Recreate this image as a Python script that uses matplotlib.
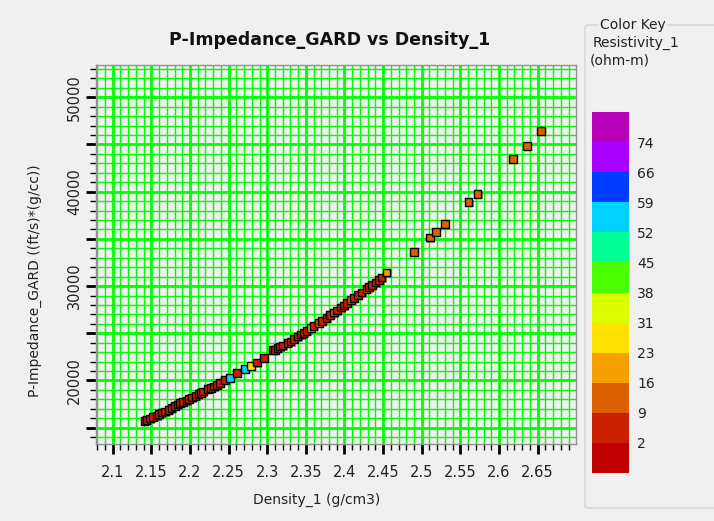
import matplotlib
matplotlib.use("Agg")
import matplotlib.pyplot as plt
import matplotlib.colors as mcolors
import matplotlib.patheffects as pe
from matplotlib.patches import FancyBboxPatch
from matplotlib.ticker import MultipleLocator, FuncFormatter
import numpy as np

# ---- data ----
density = [2.141, 2.144, 2.148, 2.1525, 2.157, 2.160, 2.1634, 2.168, 2.172, 2.176,
           2.1806, 2.184, 2.187, 2.191, 2.1957, 2.199, 2.203, 2.207, 2.2108, 2.214,
           2.2172, 2.2237, 2.227, 2.231, 2.235, 2.2388, 2.2453, 2.2518, 2.2612, 2.2711,
           2.2789, 2.2871, 2.2961, 2.3078, 2.310, 2.3135, 2.3164, 2.320, 2.3264, 2.330,
           2.335, 2.339, 2.3436, 2.347, 2.351, 2.3565, 2.360, 2.3669, 2.371, 2.3768,
           2.381, 2.3863, 2.390, 2.3953, 2.399, 2.403, 2.4083, 2.412, 2.4177, 2.422,
           2.4286, 2.432, 2.4358, 2.440, 2.4445, 2.448, 2.4544,
           2.4902, 2.5105, 2.5186, 2.5303, 2.5605, 2.5722, 2.6183, 2.6364, 2.654]
impedance = [15700, 15815, 15980, 16102, 16300, 16450, 16589, 16720, 16875, 17080,
             17300, 17450, 17585, 17700, 17860, 18030, 18180, 18360, 18540, 18680,
             18815, 19070, 19200, 19345, 19520, 19700, 20050, 20230, 20760, 21190,
             21540, 21890, 22350, 23230, 23230, 23420, 23580, 23720, 23940, 24130,
             24400, 24650, 24890, 25050, 25240, 25530, 25760, 26060, 26330, 26650,
             26930, 27220, 27430, 27710, 27950, 28200, 28500, 28760, 29060, 29300,
             29660, 29880, 30120, 30380, 30650, 30900, 31420,
             33640, 35130, 35700, 36550, 38880, 39730, 43430, 44870, 46460]
resistivity = [5, 5, 5, 5, 5, 5, 5, 5, 5, 5,
               5, 5, 5, 5, 5, 5, 5, 5, 5, 5,
               5, 5, 5, 5, 5, 5, 5, 55, 5, 55,
               27, 5, 5, 5, 5, 5, 5, 5, 5, 5,
               5, 5, 5, 5, 5, 19, 5, 12, 5, 5,
               5, 12, 5, 5, 5, 5, 12, 5, 5, 5,
               12, 5, 5, 5, 5, 5, 19,
               12, 12, 12, 12, 12, 12, 12, 12, 12]

key_bounds = [-5, 2, 9, 16, 23, 31, 38, 45, 52, 59, 66, 74, 81]
key_ticks = [2, 9, 16, 23, 31, 38, 45, 52, 59, 66, 74]
key_colors = ['#BE0000', '#C82000', '#DC6000', '#F5A000', '#FFE100', '#DCFF00',
              '#4BFF00', '#00FF96', '#00D2FF', '#003CFF', '#AA00FF', '#B900B9']

title = "P-Impedance_GARD vs Density_1"
xlabel = "Density_1 (g/cm3)"
ylabel = "P-Impedance_GARD ((ft/s)*(g/cc))"
x_tick_labels = ["2.1", "2.15", "2.2", "2.25", "2.3", "2.35", "2.4", "2.45",
                 "2.5", "2.55", "2.6", "2.65"]

# ---- figure ----
W, H = 714, 521
bg = '#F0F0F0'
fig = plt.figure(figsize=(W / 100, H / 100), dpi=100, facecolor=bg)
plt.rcParams['font.family'] = ['DejaVu Sans']

ax = fig.add_axes([96 / W, 1 - 444 / H, 480 / W, 379 / H])
ax.set_facecolor(bg)
ax.set_xlim(2.0784, 2.6996)
ax.set_ylim(13270, 53420)

ax.xaxis.set_major_locator(MultipleLocator(0.05))
ax.xaxis.set_minor_locator(MultipleLocator(0.01))
ax.yaxis.set_major_locator(MultipleLocator(5000))
ax.yaxis.set_minor_locator(MultipleLocator(1000))

lab_map = {round(float(s), 2): s for s in x_tick_labels}
ax.xaxis.set_major_formatter(FuncFormatter(lambda v, p: lab_map.get(round(v, 2), "")))
ax.yaxis.set_major_formatter(FuncFormatter(
    lambda v, p: f"{int(round(v))}" if int(round(v)) % 10000 == 0 else ""))

ax.grid(which='major', color='#00FF00', linewidth=2.0)
ax.grid(which='minor', color='#00FF00', linewidth=1.0)
ax.set_axisbelow(True)

ax.tick_params(which='major', length=7, width=2, color='black', labelsize=10.5,
               labelcolor='#222222')
ax.tick_params(axis='x', which='major', pad=8)
ax.tick_params(axis='y', which='major', pad=3)
ax.tick_params(which='minor', length=4, width=1, color='black')
for lbl in ax.get_yticklabels():
    lbl.set_rotation(90)
    lbl.set_va('center')
for s in ax.spines.values():
    s.set_color('#909090')
    s.set_linewidth(1)

cmap = mcolors.ListedColormap(key_colors)
norm = mcolors.BoundaryNorm(key_bounds, cmap.N)

sc = ax.scatter(density, impedance, c=resistivity, cmap=cmap, norm=norm,
                marker='s', s=30, edgecolors='black', linewidths=1.0, zorder=3,
                path_effects=[pe.SimplePatchShadow(offset=(1, -1), shadow_rgbFace='#606060',
                                                   alpha=0.6), pe.Normal()])

fig.text(330 / W, 1 - 40 / H, title, ha='center', va='center',
         fontsize=12.5, fontweight='bold', color='#111111')
fig.text(317 / W, 1 - 500 / H, xlabel, ha='center', va='center',
         fontsize=10, color='#222222')
fig.text(35 / W, 1 - 281 / H, ylabel, ha='center', va='center', rotation=90,
         fontsize=10, color='#222222')

# ---- color key panel ----
box = FancyBboxPatch((585 / W, 1 - 508 / H), 135 / W, 483 / H,
                     boxstyle='round,pad=0,rounding_size=0.005',
                     transform=fig.transFigure, facecolor='none',
                     edgecolor='#D8D8D8', linewidth=1.2)
fig.patches.append(box)
fig.text(633 / W, 1 - 25 / H, "Color Key", ha='center', va='center', fontsize=10,
         color='#222222', bbox=dict(facecolor=bg, edgecolor='none', pad=1))
fig.text(593 / W, 1 - 43 / H, "Resistivity_1", ha='left', va='center', fontsize=10,
         color='#222222')
fig.text(590 / W, 1 - 61 / H, "(ohm-m)", ha='left', va='center', fontsize=10,
         color='#222222')

cax = fig.add_axes([592 / W, 1 - 473 / H, 37 / W, 361 / H])
cb = fig.colorbar(sc, cax=cax, boundaries=key_bounds, ticks=key_ticks)
cb.outline.set_visible(False)
cb.ax.minorticks_off()
cb.ax.tick_params(which='both', length=0, pad=6, labelsize=10, labelcolor='#222222')

fig.savefig('out.png', dpi=100, facecolor=bg)
